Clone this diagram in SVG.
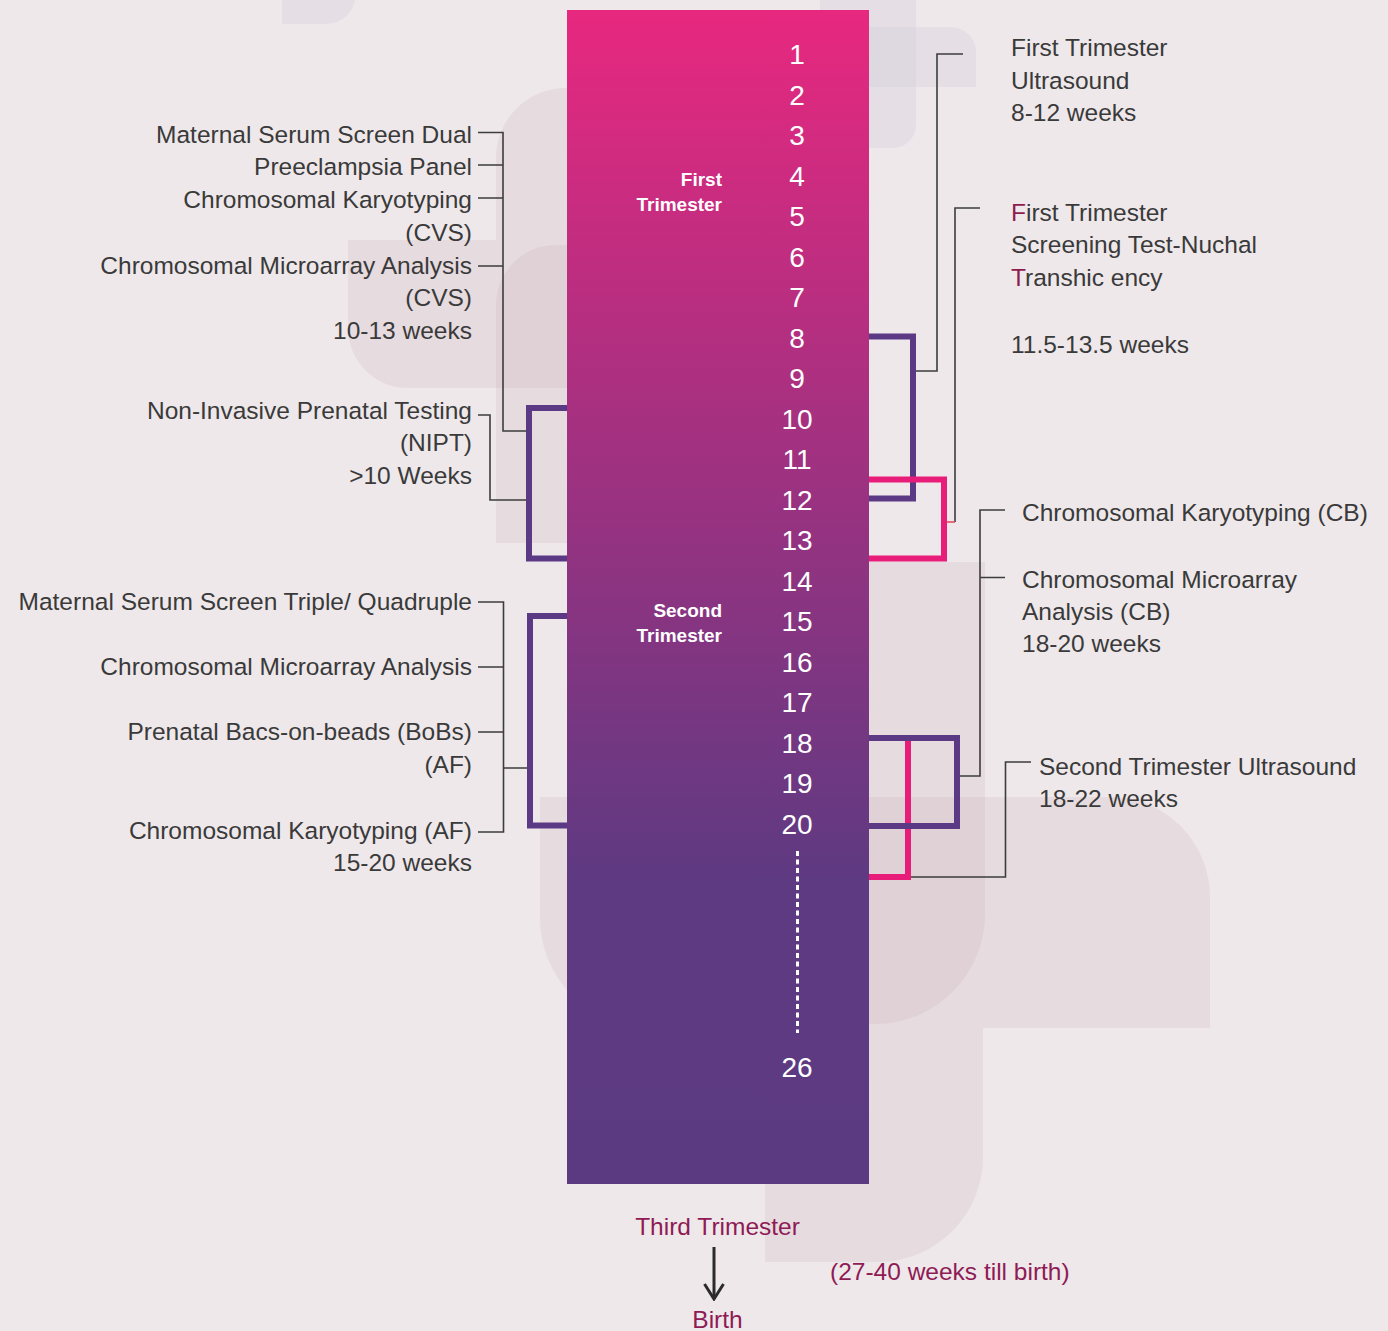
<svg xmlns="http://www.w3.org/2000/svg" width="1388" height="1331" viewBox="0 0 1388 1331">
<defs>
<linearGradient id="bar" x1="0" y1="10" x2="0" y2="1184" gradientUnits="userSpaceOnUse">
<stop offset="0" stop-color="#E7287F"/>
<stop offset="0.74" stop-color="#5E3A82"/>
<stop offset="1" stop-color="#5C3A82"/>
</linearGradient>
<marker id="chev" viewBox="0 0 18 22" refX="16" refY="11" markerWidth="18" markerHeight="22" markerUnits="userSpaceOnUse" orient="auto">
<path d="M1,1.5 L16,11 L1,20.5" fill="none" stroke="#2b2b2b" stroke-width="3"/>
</marker>
</defs>
<style>
.lbl{font-family:"Liberation Sans",Arial,sans-serif;font-size:24.5px;fill:#3a3a3a}
.end{text-anchor:end}
.wk{font-family:"Liberation Sans",Arial,sans-serif;font-size:28px;fill:#ffffff;text-anchor:middle}
.tri{font-family:"Liberation Sans",Arial,sans-serif;font-size:19px;font-weight:bold;fill:#ffffff;text-anchor:end}
.mag{font-family:"Liberation Sans",Arial,sans-serif;font-size:24.5px;fill:#8E1B55}
.acc{fill:#8E1B50}
.thin{fill:none;stroke:#3d3d3d;stroke-width:1.6}
.bp{fill:none;stroke:#5B3985;stroke-width:6}
.bk{fill:none;stroke:#E81C79;stroke-width:6}
.bgp{fill:#C8AAB4;opacity:0.2}
.bgl{fill:#C9C0D6;opacity:0.22}
</style>
<rect width="1388" height="1331" fill="#EEE8EA"/>
<g id="background">
<path class="bgl" d="M282,0 V24 H327 A28,28 0 0 0 355,-4 V0 Z"/>
<path class="bgl" d="M820,0 V148 H893 A23,23 0 0 0 916,125 V0 Z"/>
<path class="bgl" d="M820,27 H951 A25,25 0 0 1 976,52 V87 H820 Z"/>
<path class="bgp" d="M496,158 A70,70 0 0 1 566,88 H720 V388 H408 A60,60 0 0 1 348,328 V240 H496 Z"/>
<path class="bgp" d="M496,305 A60,60 0 0 1 556,245 H720 V543 H496 Z"/>
<path class="bgp" d="M760,562 H985 V914 A110,110 0 0 1 875,1024 H760 Z"/>
<path class="bgp" d="M540,797 H1110 A100,100 0 0 1 1210,897 V1028 H650 A110,110 0 0 1 540,918 Z"/>
<path class="bgp" d="M765,1028 H983 V1157 A105,105 0 0 1 878,1262 H765 Z"/>
</g>
<g id="timeline">
<rect x="567" y="10" width="302" height="1174" fill="url(#bar)"/>
<text class="wk" x="797" y="64.3">1</text>
<text class="wk" x="797" y="104.8">2</text>
<text class="wk" x="797" y="145.3">3</text>
<text class="wk" x="797" y="185.8">4</text>
<text class="wk" x="797" y="226.3">5</text>
<text class="wk" x="797" y="266.8">6</text>
<text class="wk" x="797" y="307.3">7</text>
<text class="wk" x="797" y="347.8">8</text>
<text class="wk" x="797" y="388.3">9</text>
<text class="wk" x="797" y="428.8">10</text>
<text class="wk" x="797" y="469.3">11</text>
<text class="wk" x="797" y="509.8">12</text>
<text class="wk" x="797" y="550.3">13</text>
<text class="wk" x="797" y="590.8">14</text>
<text class="wk" x="797" y="631.3">15</text>
<text class="wk" x="797" y="671.8">16</text>
<text class="wk" x="797" y="712.3">17</text>
<text class="wk" x="797" y="752.8">18</text>
<text class="wk" x="797" y="793.3">19</text>
<text class="wk" x="797" y="833.8">20</text>
<line x1="797.5" y1="851" x2="797.5" y2="1033" stroke="#ffffff" stroke-width="3" stroke-dasharray="5 3.5"/>
<text class="wk" x="797" y="1077">26</text>
</g>
<g id="first-trimester">
<text class="tri" x="722" y="186">First</text>
<text class="tri" x="722" y="211">Trimester</text>
</g>
<g id="second-trimester">
<text class="tri" x="722" y="617">Second</text>
<text class="tri" x="722" y="642">Trimester</text>
</g>
<g id="connectors">
<path class="thin" d="M478,132.5 H503 V431 H527 M478,165 H503 M478,198 H503 M478,266 H503"/>
<path class="thin" d="M478,415 H490 V500 H527"/>
<path class="thin" d="M478,602 H503.5 V832 H478 M478,667 H503.5 M478,732 H503.5 M503.5,768 H527"/>
<path class="thin" d="M963,54 H937 V371 H916"/>
<path class="thin" d="M980,208 H955 V522"/>
<path d="M947,522 H955" fill="none" stroke="#E64C5A" stroke-width="1.6"/>
<path class="thin" d="M1005,510 H980 V776 H960 M980,577.5 H1005"/>
<path class="thin" d="M1031,762 H1005.5 V877 H911"/>
<path class="bp" d="M567,408 H529 V558.5 H567"/>
<path class="bp" d="M567,616 H530 V825.5 H567"/>
<path class="bp" d="M869,336.5 H913 V498.5 H869"/>
<path class="bk" d="M869,479.5 H944 V558.5 H869"/>
<path class="bk" d="M908,735 V877 H869"/>
<path class="bp" d="M869,738 H957 V826 H869"/>
<path d="M714,1247 V1299" fill="none" stroke="#2b2b2b" stroke-width="3" marker-end="url(#chev)"/>
</g>
<g id="node-first-screen">
<text class="lbl end" x="472" y="143">Maternal Serum Screen Dual</text>
<text class="lbl end" x="472" y="175">Preeclampsia Panel</text>
<text class="lbl end" x="472" y="208">Chromosomal Karyotyping</text>
<text class="lbl end" x="472" y="240.5">(CVS)</text>
<text class="lbl end" x="472" y="273.5">Chromosomal Microarray Analysis</text>
<text class="lbl end" x="472" y="306">(CVS)</text>
<text class="lbl end" x="472" y="338.5">10-13 weeks</text>
</g>
<g id="node-nipt">
<text class="lbl end" x="472" y="418.5">Non-Invasive Prenatal Testing</text>
<text class="lbl end" x="472" y="451">(NIPT)</text>
<text class="lbl end" x="472" y="483.5">&gt;10 Weeks</text>
</g>
<g id="node-second-screen">
<text class="lbl end" x="472" y="610">Maternal Serum Screen Triple/ Quadruple</text>
<text class="lbl end" x="472" y="675">Chromosomal Microarray Analysis</text>
<text class="lbl end" x="472" y="740">Prenatal Bacs-on-beads (BoBs)</text>
<text class="lbl end" x="472" y="773">(AF)</text>
<text class="lbl end" x="472" y="838.5">Chromosomal Karyotyping (AF)</text>
<text class="lbl end" x="472" y="870.5">15-20 weeks</text>
</g>
<g id="node-first-ultrasound">
<text class="lbl" x="1011" y="55.5">First Trimester</text>
<text class="lbl" x="1011" y="88.5">Ultrasound</text>
<text class="lbl" x="1011" y="121">8-12 weeks</text>
</g>
<g id="node-nuchal">
<text class="lbl" x="1011" y="220.5"><tspan class="acc">F</tspan>irst Trimester</text>
<text class="lbl" x="1011" y="253">Screening Test-Nuchal</text>
<text class="lbl" x="1011" y="286"><tspan class="acc">T</tspan>ranshic ency</text>
<text class="lbl" x="1011" y="352.5">11.5-13.5 weeks</text>
</g>
<g id="node-cb">
<text class="lbl" x="1022" y="521">Chromosomal Karyotyping (CB)</text>
<text class="lbl" x="1022" y="587.5">Chromosomal Microarray</text>
<text class="lbl" x="1022" y="619.5">Analysis (CB)</text>
<text class="lbl" x="1022" y="652">18-20 weeks</text>
</g>
<g id="node-second-ultrasound">
<text class="lbl" x="1039" y="774.5">Second Trimester Ultrasound</text>
<text class="lbl" x="1039" y="806.5">18-22 weeks</text>
</g>
<g id="node-third">
<text class="mag" x="717.5" y="1235" text-anchor="middle">Third Trimester</text>
<text class="mag" x="830" y="1280">(27-40 weeks till birth)</text>
</g>
<g id="node-birth">
<text class="mag" x="717.5" y="1328" text-anchor="middle">Birth</text>
</g>
</svg>
